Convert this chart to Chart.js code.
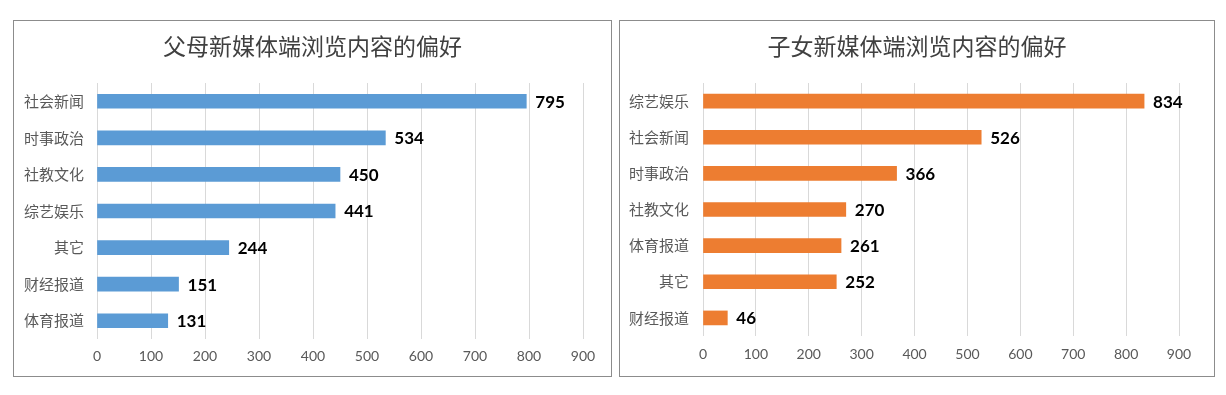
<!DOCTYPE html>
<html>
<head>
<meta charset="utf-8">
<script src="https://cdn.jsdelivr.net/npm/chart.js@4.4.0/dist/chart.umd.min.js"></script>
<style>
    body { margin: 0; background: #fff; width: 1226px; height: 395px; position: relative; overflow: hidden; }
    .panel { position: absolute; border: 1px solid #8c8c8c; box-sizing: border-box; background: #fff; }
    #p1 { left: 13px; top: 20px; width: 599px; height: 357px; }
    #p2 { left: 619px; top: 20px; width: 596px; height: 357px; }
</style>
</head>
<body>
<div class="panel" id="p1"><canvas id="parentChart"></canvas></div>
<div class="panel" id="p2"><canvas id="childChart"></canvas></div>
<script>
// Data
const parentTitle = '父母新媒体端浏览内容的偏好';
const parentLabels = ['社会新闻', '时事政治', '社教文化', '综艺娱乐', '其它', '财经报道', '体育报道'];
const parentValues = [795, 534, 450, 441, 244, 151, 131];

const childTitle = '子女新媒体端浏览内容的偏好';
const childLabels = ['综艺娱乐', '社会新闻', '时事政治', '社教文化', '体育报道', '其它', '财经报道'];
const childValues = [834, 526, 366, 270, 261, 252, 46];

const xTicks = [0, 100, 200, 300, 400, 500, 600, 700, 800, 900];

const cjk = '"Noto Sans CJK SC", "Noto Sans", sans-serif';
const latin = 'Lato, "Liberation Sans", sans-serif';

// Draws the bold value next to each bar end
const valueLabels = {
    id: 'valueLabels',
    afterDatasetsDraw(chart) {
        const ctx = chart.ctx;
        const meta = chart.getDatasetMeta(0);
        ctx.save();
        ctx.font = 'bold 17px ' + latin;
        ctx.fillStyle = '#000';
        ctx.textAlign = 'left';
        ctx.textBaseline = 'middle';
        meta.data.forEach((bar, i) => {
            ctx.fillText(chart.data.datasets[0].data[i], bar.x + 9, bar.y + 1);
        });
        ctx.restore();
    }
};

// Title centred on the whole panel (the built-in one shifts with the right padding)
const panelTitle = {
    id: 'panelTitle',
    afterDraw(chart, args, opts) {
        const ctx = chart.ctx;
        ctx.save();
        ctx.font = '23px ' + cjk;
        ctx.fillStyle = '#404040';
        ctx.textAlign = 'center';
        ctx.textBaseline = 'middle';
        ctx.fillText(opts.text, chart.width / 2, 25);
        ctx.restore();
    }
};

function makeChart(id, title, labels, values, color, rightPad, tickPad, axisH, xPad) {
    const ctx = document.getElementById(id).getContext('2d');
    return new Chart(ctx, {
        type: 'bar',
        data: {
            labels: labels,
            datasets: [{
                data: values,
                backgroundColor: color,
                barThickness: 14
            }]
        },
        options: {
            indexAxis: 'y',
            responsive: true,
            maintainAspectRatio: false,
            animation: false,
            layout: { padding: { left: 0, right: rightPad, top: 62, bottom: 0 } },
            plugins: {
                legend: { display: false },
                tooltip: { enabled: false },
                title: { display: false },
                panelTitle: { text: title }
            },
            scales: {
                x: {
                    min: 0,
                    max: 900,
                    afterBuildTicks: axis => { axis.ticks = xTicks.map(v => ({ value: v })); },
                    afterFit: axis => { axis.height = axisH; },
                    grid: { color: '#d9d9d9', drawTicks: false },
                    border: { display: false },
                    ticks: { color: '#595959', padding: xPad, font: { family: latin, size: 14 } }
                },
                y: {
                    afterFit: axis => { axis.width = 83; },
                    grid: { display: false, drawTicks: false },
                    border: { display: false },
                    ticks: { color: '#595959', padding: tickPad, font: { family: cjk, size: 15 } }
                }
            }
        },
        plugins: [valueLabels, panelTitle]
    });
}

makeChart('parentChart', parentTitle, parentLabels, parentValues, '#5B9BD5', 28, 13, 37, 9);
makeChart('childChart', childTitle, childLabels, childValues, '#ED7D31', 35, 14, 40, 10);
</script>
</body>
</html>
